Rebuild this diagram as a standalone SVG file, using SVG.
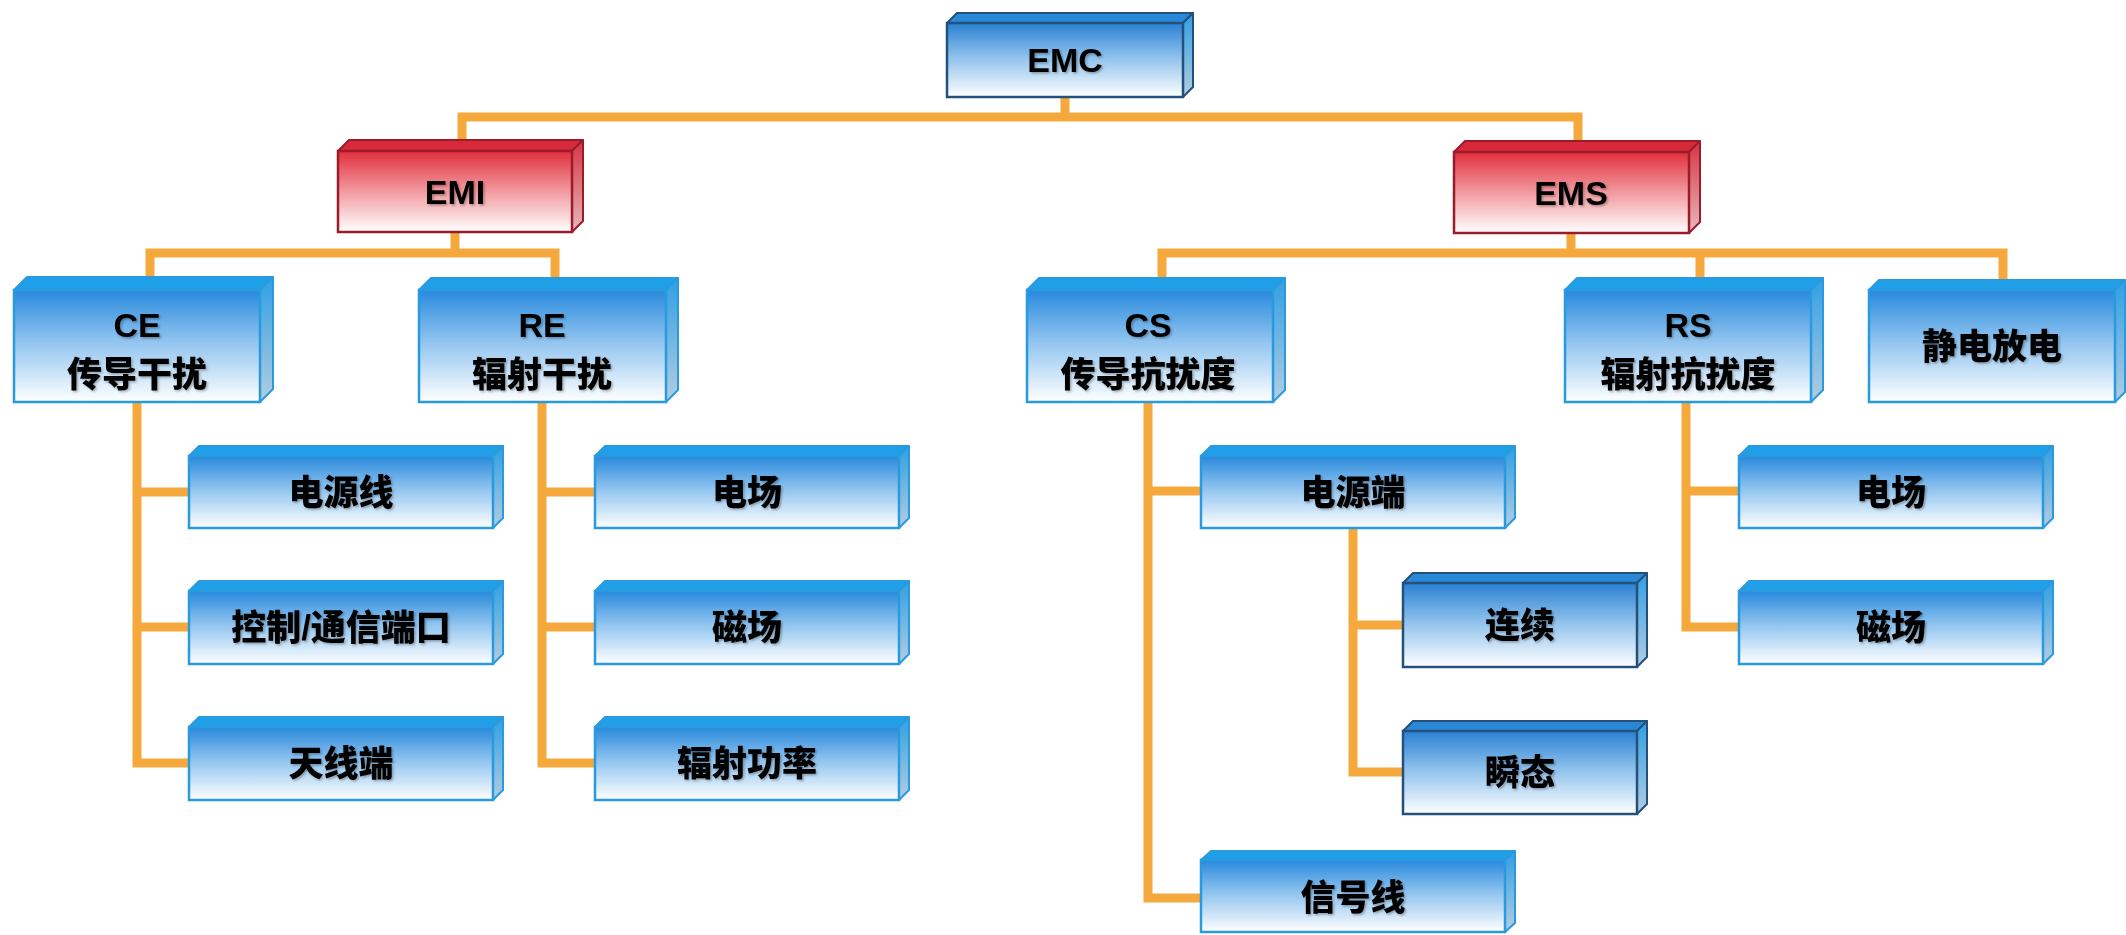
<svg xmlns="http://www.w3.org/2000/svg" width="2126" height="935" viewBox="0 0 2126 935">
  <defs>
    <linearGradient id="gBlue" x1="0" y1="0" x2="0" y2="1">
      <stop offset="0" stop-color="#2889dc"/>
      <stop offset="0.45" stop-color="#8ec3ef"/>
      <stop offset="1" stop-color="#ffffff"/>
    </linearGradient>
    <linearGradient id="gBlueDark" x1="0" y1="0" x2="0" y2="1">
      <stop offset="0" stop-color="#2a80d2"/>
      <stop offset="0.45" stop-color="#8cc0ec"/>
      <stop offset="1" stop-color="#ffffff"/>
    </linearGradient>
    <linearGradient id="gBlueSide" x1="0" y1="0" x2="0" y2="1">
      <stop offset="0" stop-color="#2f9fe4"/>
      <stop offset="1" stop-color="#b4cde0"/>
    </linearGradient>
    <linearGradient id="gRed" x1="0" y1="0" x2="0" y2="1">
      <stop offset="0" stop-color="#e12f3c"/>
      <stop offset="0.5" stop-color="#f29aa0"/>
      <stop offset="1" stop-color="#ffffff"/>
    </linearGradient>
    <linearGradient id="gRedSide" x1="0" y1="0" x2="0" y2="1">
      <stop offset="0" stop-color="#d63442"/>
      <stop offset="1" stop-color="#e6b9bd"/>
    </linearGradient>
    <filter id="soft" x="-10%" y="-20%" width="130%" height="150%">
      <feDropShadow dx="1.5" dy="1.5" stdDeviation="1.2" flood-color="#000" flood-opacity="0.3"/>
    </filter>
  </defs>
  <style>
    .front { fill: url(#gBlue); stroke: #2a9ade; stroke-width: 2.5; }
    .top { fill: #1f9fe7; stroke: #2a9ade; stroke-width: 2; stroke-linejoin: round; }
    .side { fill: url(#gBlueSide); stroke: #2a9ade; stroke-width: 2; stroke-linejoin: round; }
    .dark .front { fill: url(#gBlueDark); stroke: #24507c; }
    .dark .top { fill: #2b88d6; stroke: #24507c; }
    .dark .side { stroke: #24507c; }
    .red .front { fill: url(#gRed); stroke: #9c1b2b; }
    .red .top { fill: #d62a3a; stroke: #9c1b2b; }
    .red .side { fill: url(#gRedSide); stroke: #9c1b2b; }
    text { font-family: "Liberation Sans", "Noto Sans CJK SC", sans-serif; font-weight: 700; fill: #000; text-anchor: middle; filter: url(#soft); }
    .lat { font-size: 34px; }
    .cjk { font-size: 35px; font-weight: 900; }
    #connectors path { fill: none; stroke: #f5a93c; stroke-width: 9; stroke-linejoin: miter; }
  </style>

  <rect width="2126" height="935" fill="#ffffff"/>

  <!-- orange tree lines -->
  <g id="connectors">
    <path d="M1065 97 V117"/>
    <path d="M462 140 V117 H1578 V141"/>
    <path d="M455 232 V253"/>
    <path d="M150 277 V253 H555 V278"/>
    <path d="M1571 233 V253"/>
    <path d="M1162 278 V253 H2003 V280"/>
    <path d="M1700 253 V278"/>
    <path d="M137 402 V763 H189 M137 492 H189 M137 627 H189"/>
    <path d="M542 402 V763 H595 M542 492 H595 M542 627 H595"/>
    <path d="M1148 402 V898 H1201 M1148 491 H1201"/>
    <path d="M1353 528 V772 H1403 M1353 625 H1403"/>
    <path d="M1686 402 V627 H1739 M1686 491 H1739"/>
  </g>

  <!-- root -->
  <g id="node-emc" class="dark">
    <polygon class="top" points="947,23 957,13 1193,13 1183,23"/>
    <polygon class="side" points="1183,23 1193,13 1193,87 1183,97"/>
    <rect class="front" x="947" y="23" width="236" height="74"/>
    <text class="lat" x="1065" y="72">EMC</text>
  </g>

  <!-- second level -->
  <g id="node-emi" class="red">
    <polygon class="top" points="338,151 349,140 583,140 572,151"/>
    <polygon class="side" points="572,151 583,140 583,221 572,232"/>
    <rect class="front" x="338" y="151" width="234" height="81"/>
    <text class="lat" x="455" y="204">EMI</text>
  </g>
  <g id="node-ems" class="red">
    <polygon class="top" points="1454,152 1465,141 1700,141 1689,152"/>
    <polygon class="side" points="1689,152 1700,141 1700,222 1689,233"/>
    <rect class="front" x="1454" y="152" width="235" height="81"/>
    <text class="lat" x="1571" y="205">EMS</text>
  </g>

  <!-- third level -->
  <g id="node-ce">
    <polygon class="top" points="14,290 27,277 273,277 260,290"/>
    <polygon class="side" points="260,290 273,277 273,389 260,402"/>
    <rect class="front" x="14" y="290" width="246" height="112"/>
    <text class="lat" x="137" y="337">CE</text>
    <text class="cjk" x="137" y="387">传导干扰</text>
  </g>
  <g id="node-re">
    <polygon class="top" points="419,290 431,278 678,278 666,290"/>
    <polygon class="side" points="666,290 678,278 678,390 666,402"/>
    <rect class="front" x="419" y="290" width="247" height="112"/>
    <text class="lat" x="542" y="337">RE</text>
    <text class="cjk" x="542" y="387">辐射干扰</text>
  </g>
  <g id="node-cs">
    <polygon class="top" points="1027,290 1039,278 1285,278 1273,290"/>
    <polygon class="side" points="1273,290 1285,278 1285,390 1273,402"/>
    <rect class="front" x="1027" y="290" width="246" height="112"/>
    <text class="lat" x="1148" y="337">CS</text>
    <text class="cjk" x="1148" y="387">传导抗扰度</text>
  </g>
  <g id="node-rs">
    <polygon class="top" points="1565,290 1577,278 1823,278 1811,290"/>
    <polygon class="side" points="1811,290 1823,278 1823,390 1811,402"/>
    <rect class="front" x="1565" y="290" width="246" height="112"/>
    <text class="lat" x="1688" y="337">RS</text>
    <text class="cjk" x="1688" y="387">辐射抗扰度</text>
  </g>
  <g id="node-esd">
    <polygon class="top" points="1869,290 1879,280 2125,280 2115,290"/>
    <polygon class="side" points="2115,290 2125,280 2125,392 2115,402"/>
    <rect class="front" x="1869" y="290" width="246" height="112"/>
    <text class="cjk" x="1992" y="359">静电放电</text>
  </g>

  <!-- CE children -->
  <g id="node-ce-power">
    <polygon class="top" points="189,456 199,446 503,446 493,456"/>
    <polygon class="side" points="493,456 503,446 503,518 493,528"/>
    <rect class="front" x="189" y="456" width="304" height="72"/>
    <text class="cjk" x="341" y="505">电源线</text>
  </g>
  <g id="node-ce-ctrl">
    <polygon class="top" points="189,591 199,581 503,581 493,591"/>
    <polygon class="side" points="493,591 503,581 503,654 493,664"/>
    <rect class="front" x="189" y="591" width="304" height="73"/>
    <text class="cjk" x="341" y="640">控制/通信端口</text>
  </g>
  <g id="node-ce-ant">
    <polygon class="top" points="189,727 199,717 503,717 493,727"/>
    <polygon class="side" points="493,727 503,717 503,790 493,800"/>
    <rect class="front" x="189" y="727" width="304" height="73"/>
    <text class="cjk" x="341" y="776">天线端</text>
  </g>

  <!-- RE children -->
  <g id="node-re-e">
    <polygon class="top" points="595,456 605,446 909,446 899,456"/>
    <polygon class="side" points="899,456 909,446 909,518 899,528"/>
    <rect class="front" x="595" y="456" width="304" height="72"/>
    <text class="cjk" x="747" y="505">电场</text>
  </g>
  <g id="node-re-h">
    <polygon class="top" points="595,591 605,581 909,581 899,591"/>
    <polygon class="side" points="899,591 909,581 909,654 899,664"/>
    <rect class="front" x="595" y="591" width="304" height="73"/>
    <text class="cjk" x="747" y="640">磁场</text>
  </g>
  <g id="node-re-p">
    <polygon class="top" points="595,727 605,717 909,717 899,727"/>
    <polygon class="side" points="899,727 909,717 909,790 899,800"/>
    <rect class="front" x="595" y="727" width="304" height="73"/>
    <text class="cjk" x="747" y="776">辐射功率</text>
  </g>

  <!-- CS children -->
  <g id="node-cs-power">
    <polygon class="top" points="1201,456 1211,446 1515,446 1505,456"/>
    <polygon class="side" points="1505,456 1515,446 1515,518 1505,528"/>
    <rect class="front" x="1201" y="456" width="304" height="72"/>
    <text class="cjk" x="1353" y="505">电源端</text>
  </g>
  <g id="node-cs-cont" class="dark">
    <polygon class="top" points="1403,583 1413,573 1647,573 1637,583"/>
    <polygon class="side" points="1637,583 1647,573 1647,657 1637,667"/>
    <rect class="front" x="1403" y="583" width="234" height="84"/>
    <text class="cjk" x="1520" y="638">连续</text>
  </g>
  <g id="node-cs-trans" class="dark">
    <polygon class="top" points="1403,731 1413,721 1647,721 1637,731"/>
    <polygon class="side" points="1637,731 1647,721 1647,804 1637,814"/>
    <rect class="front" x="1403" y="731" width="234" height="83"/>
    <text class="cjk" x="1520" y="785">瞬态</text>
  </g>
  <g id="node-cs-signal">
    <polygon class="top" points="1201,860 1211,851 1515,851 1505,860"/>
    <polygon class="side" points="1505,860 1515,851 1515,923 1505,932"/>
    <rect class="front" x="1201" y="860" width="304" height="72"/>
    <text class="cjk" x="1353" y="910">信号线</text>
  </g>

  <!-- RS children -->
  <g id="node-rs-e">
    <polygon class="top" points="1739,456 1749,446 2053,446 2043,456"/>
    <polygon class="side" points="2043,456 2053,446 2053,518 2043,528"/>
    <rect class="front" x="1739" y="456" width="304" height="72"/>
    <text class="cjk" x="1891" y="505">电场</text>
  </g>
  <g id="node-rs-h">
    <polygon class="top" points="1739,591 1749,581 2053,581 2043,591"/>
    <polygon class="side" points="2043,591 2053,581 2053,654 2043,664"/>
    <rect class="front" x="1739" y="591" width="304" height="73"/>
    <text class="cjk" x="1891" y="640">磁场</text>
  </g>
</svg>
